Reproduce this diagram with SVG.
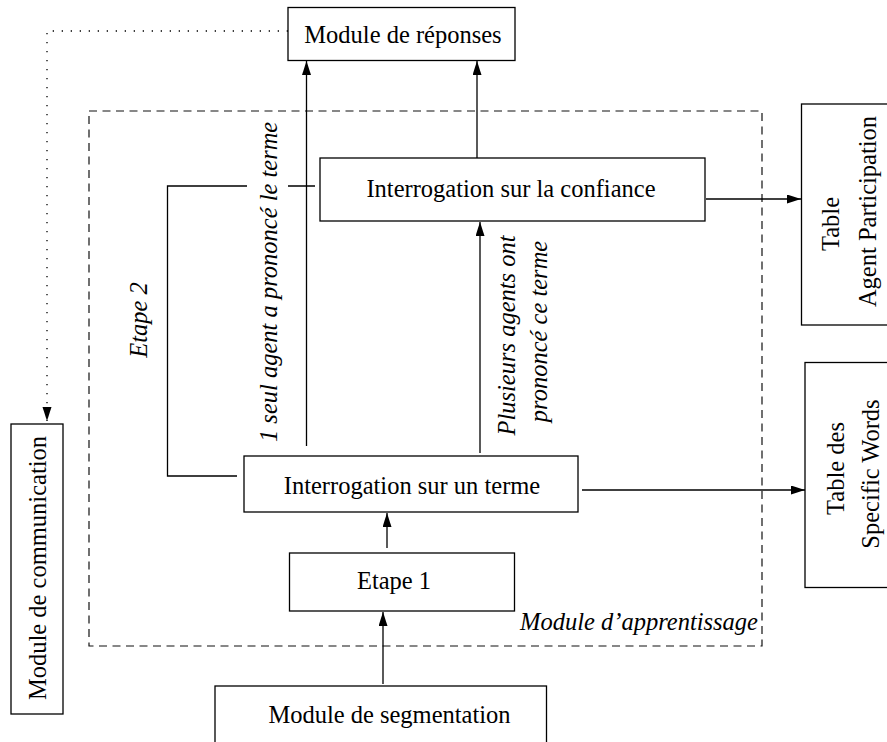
<svg xmlns="http://www.w3.org/2000/svg" width="887" height="742" viewBox="0 0 887 742">
<style>
.box{fill:#fff;stroke:#000;stroke-width:1.3}
.t{font-family:"Liberation Serif","Times New Roman",serif;font-size:24.5px;fill:#000}
.i{font-style:italic}
.m{text-anchor:middle}
.c{fill:none;stroke:#000;stroke-width:1.3}
.dash{fill:none;stroke:#111;stroke-width:1.2;stroke-dasharray:8 5.5}
.dot{fill:none;stroke:#000;stroke-width:1.3;stroke-dasharray:1.3 7.7}
</style>
<defs>
<marker id="ah" markerUnits="userSpaceOnUse" markerWidth="15" markerHeight="10" refX="14" refY="4.5" orient="auto">
<path d="M0,0 L14,4.5 L0,9 z" fill="#000"/>
</marker>
</defs>

<g id="apprentissage">
<rect class="dash" x="89" y="111" width="673" height="535"/>
<text class="t i" x="758" y="630" text-anchor="end">Module d’apprentissage</text>
</g>

<g id="connectors">
<path class="c" d="M306.5,446 V61" marker-end="url(#ah)"/>
<path class="c" d="M477,158 V61" marker-end="url(#ah)"/>
<path class="c" d="M480,453 V222" marker-end="url(#ah)"/>
<path class="c" d="M706,199 H801" marker-end="url(#ah)"/>
<path class="c" d="M582,490 H805" marker-end="url(#ah)"/>
<path class="c" d="M387,548 V513" marker-end="url(#ah)"/>
<path class="c" d="M383,684 V612" marker-end="url(#ah)"/>
<path class="dot" d="M288,31 H47 V421" marker-end="url(#ah)"/>
<path class="c" d="M315,186 H288 M247,186 H167.5 V476 H237"/>
<text class="t i" transform="translate(277,442) rotate(-90)">1 seul agent a prononcé le terme</text>
<text class="t i m" transform="translate(146.5,320) rotate(-90)">Etape 2</text>
<text class="t i m" transform="translate(515,335.5) rotate(-90)">Plusieurs agents ont</text>
<text class="t i m" transform="translate(547,331.5) rotate(-90)">prononcé ce terme</text>
</g>

<g id="reponses">
<rect class="box" x="288" y="7.5" width="227" height="53"/>
<text class="t m" x="403" y="43">Module de réponses</text>
</g>

<g id="confiance">
<rect class="box" x="320" y="158" width="385" height="63"/>
<text class="t m" x="511" y="197">Interrogation sur la confiance</text>
</g>

<g id="terme">
<rect class="box" x="244" y="456" width="334" height="56"/>
<text class="t m" x="412" y="494">Interrogation sur un terme</text>
</g>

<g id="etape1">
<rect class="box" x="289.5" y="553" width="225" height="58"/>
<text class="t m" x="394" y="589">Etape 1</text>
</g>

<g id="segmentation">
<rect class="box" x="215" y="686" width="331.5" height="70"/>
<text class="t m" x="389.5" y="723">Module de segmentation</text>
</g>

<g id="communication">
<rect class="box" x="11" y="424" width="52" height="290"/>
<text class="t m" transform="translate(46,568) rotate(-90)">Module de communication</text>
</g>

<g id="agent-participation">
<rect class="box" x="801.5" y="104" width="100" height="221"/>
<text class="t m" transform="translate(839,224) rotate(-90)">Table</text>
<text class="t m" transform="translate(876,211.5) rotate(-90)">Agent Participation</text>
</g>

<g id="specific-words">
<rect class="box" x="805" y="362.5" width="100" height="225"/>
<text class="t m" transform="translate(843.5,468.5) rotate(-90)">Table des</text>
<text class="t m" transform="translate(879,474) rotate(-90)">Specific Words</text>
</g>
</svg>
